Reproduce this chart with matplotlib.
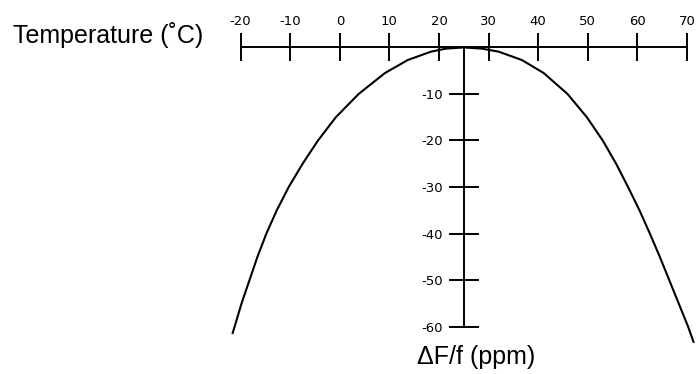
import matplotlib
matplotlib.use("Agg")
import matplotlib.pyplot as plt

plt.rcParams["axes.unicode_minus"] = False

# axis ticks
temp_ticks = [-20, -10, 0, 10, 20, 30, 40, 50, 60, 70]
ppm_ticks = [-10, -20, -30, -40, -50, -60]

# frequency deviation curve (deg C -> ppm)
temp = [-21.6, -21.2, -19.8, -18.2, -16.6, -14.8, -12.7, -10.3, -7.5, -4.4, -0.8, 3.8,
        9.1, 13.7, 18.4, 21.4, 25.0, 28.6, 32.0, 36.7, 41.1, 45.9, 49.8, 53.0,
        55.7, 58.1, 60.4, 62.5, 64.5, 66.4, 68.3, 70.2, 71.3]
ppm = [-61.4, -60, -55, -50, -45, -40, -35, -30, -25, -20, -15, -10,
       -5.5, -2.7, -0.9, -0.25, 0.0, -0.25, -0.9, -2.7, -5.5, -10, -15, -20,
       -25, -30, -35, -40, -45, -50, -55, -60, -63.3]

fig = plt.figure(figsize=(6.96, 3.74), dpi=100)
ax = fig.add_axes([0, 0, 1, 1])
ax.set_xlim(-68.5, 71.8)
ax.set_ylim(-70.2, 10.2)
ax.patch.set_visible(False)

ax.plot(temp, ppm, color="black", lw=1.5, solid_joinstyle="round")

# cross-shaped axes: temperature along ppm=0, ppm along T=25
ax.spines["right"].set_visible(False)
ax.spines["bottom"].set_visible(False)
ax.spines["top"].set_position(("data", 0))
ax.spines["top"].set_bounds(-20, 70)
ax.spines["left"].set_position(("data", 25))
ax.spines["left"].set_bounds(-60, 0)
for s in ("top", "left"):
    ax.spines[s].set_linewidth(1.4)

ax.xaxis.set_ticks_position("top")
ax.set_xticks(temp_ticks)
ax.tick_params(axis="x", direction="inout", length=20, width=1.4, pad=4, labelsize=9.5)
ax.yaxis.set_ticks_position("left")
ax.set_yticks(ppm_ticks)
ax.tick_params(axis="y", direction="inout", length=22, width=1.4, pad=4, labelsize=9.5)

fig.text(13 / 696, 1 - 42.5 / 374, "Temperature (\u02daC)", fontsize=18,
         family="Liberation Sans", va="baseline", ha="left")
fig.text(417 / 696, 1 - 364 / 374, "\u0394F/f (ppm)", fontsize=18,
         family="Liberation Sans", va="baseline", ha="left")

fig.savefig("out.png", dpi=100)
